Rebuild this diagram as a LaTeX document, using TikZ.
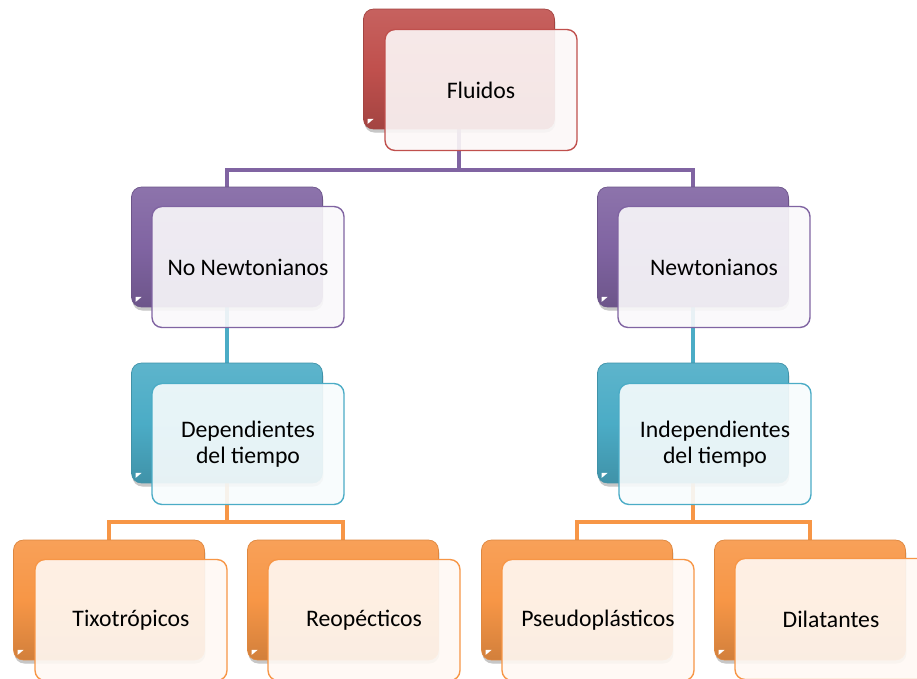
\documentclass[tikz,border=0pt]{standalone}
\usepackage{fontspec}
\setmainfont{Carlito}
\usepackage{tikz}
\usetikzlibrary{shadows}
\definecolor{rojo}{HTML}{C0504D}
\definecolor{morado}{HTML}{8064A2}
\definecolor{celeste}{HTML}{4BACC6}
\definecolor{naranja}{HTML}{F79646}
\tikzstyle{back} = [rounded corners=0.2cm, minimum width=3.82cm, minimum height=2.4cm, inner sep=0pt,
    drop shadow={opacity=0.25, shadow xshift=0.5pt, shadow yshift=-2pt},
    path picture={\fill[white, sharp corners] ([xshift=0.08cm,yshift=0.2cm]path picture bounding box.south west) -- ++(0.12cm,0) -- ++(-0.12cm,-0.1cm) -- cycle;}]
\tikzstyle{front} = [rounded corners=0.2cm, minimum width=3.84cm, minimum height=2.42cm, inner sep=0pt,
    line width=0.8pt, fill opacity=0.9, text opacity=1, align=center,
    font=\fontsize{13.5}{14.8}\selectfont]
\tikzstyle{line} = [line width=2.3pt]

\begin{document}
\begin{tikzpicture}[x=0.02cm, y=-0.02cm]
        \clip (0,0) rectangle (917,679);
        \fill[white] (0,0) rectangle (917,679);

        % conectores
        \coordinate (j1) at (459,170);
        \coordinate (j3) at (227,522);
        \coordinate (j4) at (693,522);
        \node[back] at (459,69) (fluB) {};
        \node[back] at (227,247) (nonB) {};
        \node[back] at (693,247) (newB) {};
        \node[back] at (227,423) (depB) {};
        \node[back] at (693,423) (indB) {};
        \node[back] at (109,600) (tixB) {};
        \node[back] at (343,600) (reoB) {};
        \node[back] at (577,600) (pseB) {};
        \node[back] at (810,600) (dilB) {};

        \draw[line, morado] (fluB.center) -- (j1) -| (nonB.center);
        \draw[line, morado] (j1) -| (newB.center);
        \draw[line, celeste] (nonB.center) -- (depB.center);
        \draw[line, celeste] (newB.center) -- (indB.center);
        \draw[line, naranja] (depB.center) -- (j3) -| (tixB.center);
        \draw[line, naranja] (j3) -| (reoB.center);
        \draw[line, naranja] (indB.center) -- (j4) -| (pseB.center);
        \draw[line, naranja] (j4) -| (dilB.center);

        % cajas de fondo
        \node[back, draw=rojo!85!black, top color=rojo!90!white, bottom color=rojo!85!black, middle color=rojo] at (459,69) (fluB) {};
        \node[back, draw=morado!85!black, top color=morado!90!white, bottom color=morado!85!black, middle color=morado] at (227,247) (nonB) {};
        \node[back, draw=morado!85!black, top color=morado!90!white, bottom color=morado!85!black, middle color=morado] at (693,247) (newB) {};
        \node[back, draw=celeste!85!black, top color=celeste!90!white, bottom color=celeste!85!black, middle color=celeste] at (227,423) (depB) {};
        \node[back, draw=celeste!85!black, top color=celeste!90!white, bottom color=celeste!85!black, middle color=celeste] at (693,423) (indB) {};
        \node[back, draw=naranja!90!black, top color=naranja!90!white, bottom color=naranja!85!black, middle color=naranja] at (109,600) (tixB) {};
        \node[back, draw=naranja!90!black, top color=naranja!90!white, bottom color=naranja!85!black, middle color=naranja] at (343,600) (reoB) {};
        \node[back, draw=naranja!90!black, top color=naranja!90!white, bottom color=naranja!85!black, middle color=naranja] at (577,600) (pseB) {};
        \node[back, draw=naranja!90!black, top color=naranja!90!white, bottom color=naranja!85!black, middle color=naranja] at (810,600) (dilB) {};

        % cajas de texto
        \node[front, draw=rojo, fill=rojo!4!white] at (481,90) (flu) {Fluidos};
        \node[front, draw=morado, fill=morado!4!white] at (248,267) (non) {No Newtonianos};
        \node[front, draw=morado, fill=morado!4!white] at (714,267) (new) {Newtonianos};
        \node[front, draw=celeste, fill=celeste!4!white] at (248,444) (dep) {Dependientes\\del tiempo};
        \node[front, draw=celeste, fill=celeste!4!white] at (715,444) (ind) {Independientes\\del tiempo};
        \node[front, draw=naranja, fill=naranja!6!white] at (131,620) (tix) {Tixotrópicos};
        \node[front, draw=naranja, fill=naranja!6!white] at (364,620) (reo) {Reopécticos};
        \node[front, draw=naranja, fill=naranja!6!white] at (598,620) (pse) {Pseudoplásticos};
        \node[front, draw=naranja, fill=naranja!6!white] at (831,619) (dil) {Dilatantes};

    \end{tikzpicture}
\end{document}
